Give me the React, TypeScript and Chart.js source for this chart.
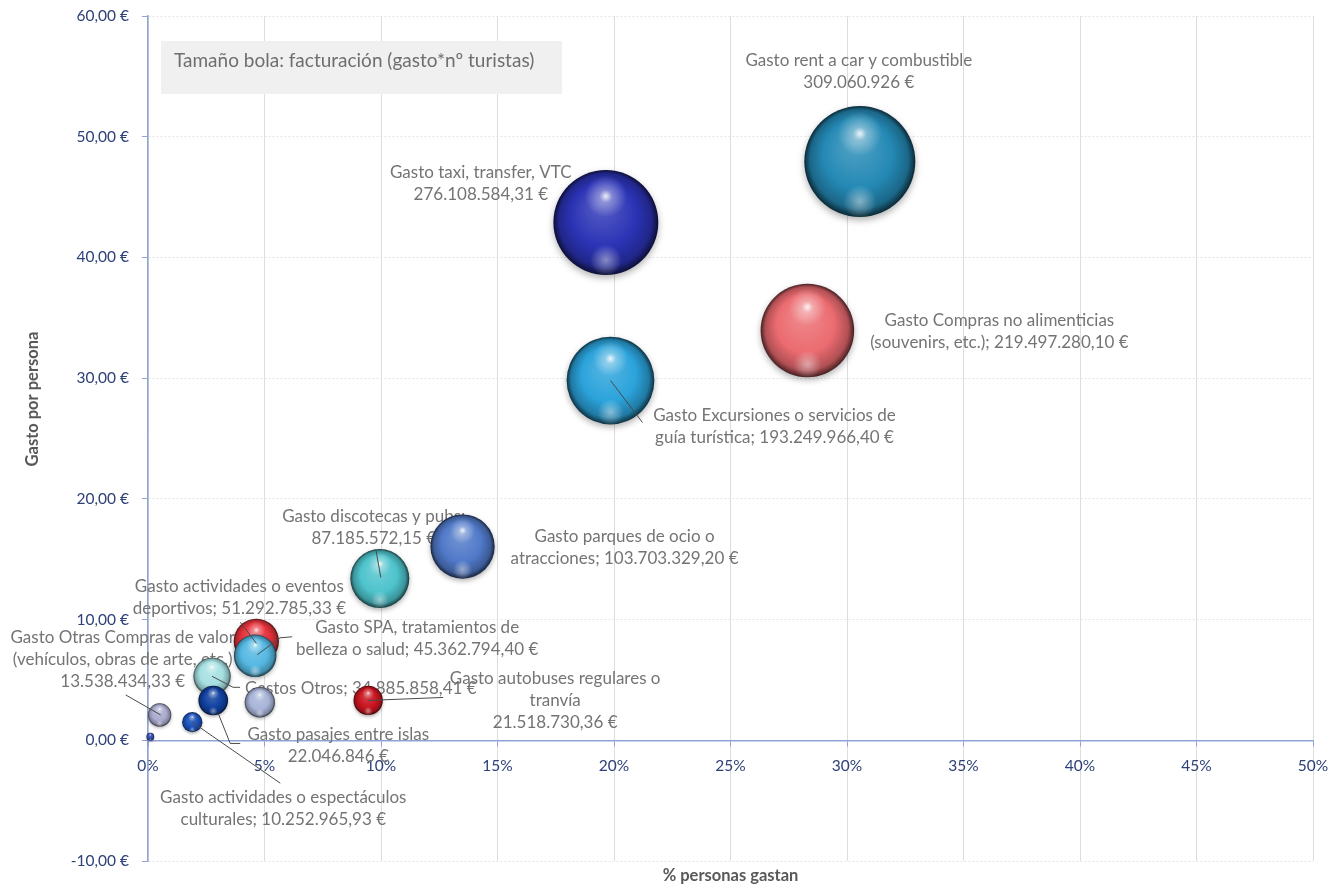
import React, { useEffect, useRef } from 'react';
import { Chart, registerables } from 'chart.js';

Chart.register(...registerables);

// ---------- DATA ----------
const categories = [
  'Gasto rent a car y combustible',
  'Gasto taxi, transfer, VTC',
  'Gasto Compras no alimenticias (souvenirs, etc.)',
  'Gasto Excursiones o servicios de guía turística',
  'Gasto parques de ocio o atracciones',
  'Gasto discotecas y pubs',
  'Gasto actividades o eventos deportivos',
  'Gasto SPA, tratamientos de belleza o salud',
  'Gastos Otros',
  'Gasto pasajes entre islas',
  'Gasto (sin etiqueta)',
  'Gasto autobuses regulares o tranvía',
  'Gasto Otras Compras de valor (vehículos, obras de arte, etc.)',
  'Gasto actividades o espectáculos culturales',
  'Gasto (sin etiqueta 2)',
];
const pctPersonas = [30.55, 19.65, 28.3, 19.85, 13.5, 9.95, 4.65, 4.6, 2.75, 2.8, 4.8, 9.45, 0.5, 1.9, 0.1];
const gastoPersona = [47.95, 42.9, 33.95, 29.8, 16.05, 13.4, 8.2, 7.0, 5.3, 3.3, 3.15, 3.3, 2.1, 1.5, 0.3];
const facturacion = [
  309060926, 276108584.31, 219497280.1, 193249966.4, 103703329.2, 87185572.15,
  51292785.33, 45362794.4, 34885858.41, 22046846, 23000000, 21518730.36,
  13538434.33, 10252965.93, 1500000,
];
const labelLines: string[][] = [
  ['Gasto rent a car y combustible', '309.060.926 €'],
  ['Gasto taxi, transfer, VTC', '276.108.584,31 €'],
  ['Gasto Compras no alimenticias', '(souvenirs, etc.); 219.497.280,10 €'],
  ['Gasto Excursiones o servicios de', 'guía turística; 193.249.966,40 €'],
  ['Gasto parques de ocio o', 'atracciones; 103.703.329,20 €'],
  ['Gasto discotecas y pubs;', '87.185.572,15 €'],
  ['Gasto actividades o eventos', 'deportivos; 51.292.785,33 €'],
  ['Gasto SPA, tratamientos de', 'belleza o salud; 45.362.794,40 €'],
  ['Gastos Otros; 34.885.858,41 €'],
  ['Gasto pasajes entre islas', '22.046.846 €'],
  [],
  ['Gasto autobuses regulares o', 'tranvía', '21.518.730,36 €'],
  ['Gasto Otras Compras de valor', '(vehículos, obras de arte, etc.)', '13.538.434,33 €'],
  ['Gasto actividades o espectáculos', 'culturales; 10.252.965,93 €'],
  [],
];
const xTickMin = 0;
const xTickMax = 50;
const xTickStep = 5;
const yTickMin = -10;
const yTickMax = 60;
const yTickStep = 10;
const noteText = 'Tamaño bola: facturación (gasto*nº turistas)';
const xTitle = '% personas gastan';
const yTitle = 'Gasto por persona';

// ---------- STYLE ----------
const bubbleColors = [
  '#2489B5', '#2B33B5', '#EB6B70', '#2BA3DB', '#5079C8', '#4EC3CC', '#E8323C',
  '#55B8E2', '#A6E0E2', '#1040A0', '#A8B4D8', '#C8141E', '#A9ABCE', '#1A4FB8', '#3048A8',
];
const maxRadius = 55.5;
type LabelLayout = { dx: number; dy: number; align?: 'center' | 'left'; leader?: number[][] } | null;
const labelLayout: LabelLayout[] = [
  { dx: -1, dy: -101 },
  { dx: -125, dy: -50 },
  { dx: 192, dy: -10 },
  { dx: 164, dy: 35, leader: [[0, 0], [32, 42]] },
  { dx: 162, dy: -10 },
  { dx: -6, dy: -62, leader: [[-4, -29], [1, -1]] },
  { dx: -17, dy: -55, leader: [[-16, -19], [0, 2]] },
  { dx: 162, dy: -28, leader: [[37, -19], [25, -18], [2, -1]] },
  { dx: 33, dy: 12, align: 'left', leader: [[0, 0], [21, 11], [28, 11]] },
  { dx: 125, dy: 34, leader: [[5, 13], [17, 43], [27, 43]] },
  null,
  { dx: 187, dy: -22, leader: [[0, 0], [75, -3]] },
  { dx: -37, dy: -77, leader: [[-34, -20], [1, 0]] },
  { dx: 91, dy: 75, leader: [[0, 0], [88, 61]] },
  null,
];
const FONT = 'Lato, "Open Sans", sans-serif';
const labelColor = '#747474';
const tickColor = '#2E4178';
const axisColor = '#8EA4D6';

function shade(hex: string, f: number): string {
  const n = parseInt(hex.slice(1), 16);
  let r = (n >> 16) & 255, g = (n >> 8) & 255, b = n & 255;
  if (f >= 0) {
    r += (255 - r) * f; g += (255 - g) * f; b += (255 - b) * f;
  } else {
    r *= 1 + f; g *= 1 + f; b *= 1 + f;
  }
  return `rgb(${Math.round(r)},${Math.round(g)},${Math.round(b)})`;
}

function drawSphere(ctx: CanvasRenderingContext2D, x: number, y: number, r: number, color: string) {
  ctx.save();
  ctx.shadowColor = 'rgba(0,0,0,0.3)';
  ctx.shadowBlur = r * 0.1 + 2;
  ctx.shadowOffsetY = r * 0.04 + 1;
  const g = ctx.createRadialGradient(x - r * 0.1, y - r * 0.35, r * 0.05, x, y, r);
  g.addColorStop(0, shade(color, 0.2));
  g.addColorStop(0.6, color);
  g.addColorStop(0.88, shade(color, -0.25));
  g.addColorStop(1, shade(color, -0.7));
  ctx.fillStyle = g;
  ctx.beginPath();
  ctx.arc(x, y, r, 0, Math.PI * 2);
  ctx.fill();
  ctx.shadowColor = 'rgba(0,0,0,0)';
  ctx.shadowBlur = 0;
  ctx.shadowOffsetY = 0;
  const hx = x, hy = y - r * 0.5;
  const h = ctx.createRadialGradient(hx, hy, 0, hx, hy, r * 0.4);
  h.addColorStop(0, 'rgba(255,255,255,0.9)');
  h.addColorStop(0.3, 'rgba(255,255,255,0.35)');
  h.addColorStop(1, 'rgba(255,255,255,0)');
  ctx.fillStyle = h;
  ctx.beginPath();
  ctx.arc(x, y, r, 0, Math.PI * 2);
  ctx.fill();
  const by = y + r * 0.72;
  const b = ctx.createRadialGradient(x, by, 0, x, by, r * 0.3);
  b.addColorStop(0, 'rgba(255,255,255,0.45)');
  b.addColorStop(1, 'rgba(255,255,255,0)');
  ctx.fillStyle = b;
  ctx.beginPath();
  ctx.arc(x, y, r, 0, Math.PI * 2);
  ctx.fill();
  ctx.restore();
}

const decorPlugin = {
  id: 'decor',
  beforeDatasetsDraw(chart: any) {
    const ctx: CanvasRenderingContext2D = chart.ctx;
    ctx.save();
    ctx.fillStyle = '#F0F0F0';
    ctx.fillRect(161, 41, 401, 53);
    ctx.fillStyle = '#6E6E6E';
    ctx.font = `19px ${FONT}`;
    ctx.textBaseline = 'middle';
    ctx.textAlign = 'left';
    ctx.fillText(noteText, 174, 61);
    const meta = chart.getDatasetMeta(0);
    ctx.font = `17px ${FONT}`;
    ctx.fillStyle = labelColor;
    meta.data.forEach((el: any, i: number) => {
      const lay = labelLayout[i];
      const lines = labelLines[i];
      if (!lay || !lines.length) return;
      ctx.textAlign = lay.align === 'left' ? 'left' : 'center';
      lines.forEach((t, k) => {
        ctx.fillText(t, el.x + lay.dx, el.y + lay.dy + k * 22);
      });
    });
    ctx.restore();
  },
  afterDatasetsDraw(chart: any) {
    const ctx: CanvasRenderingContext2D = chart.ctx;
    const meta = chart.getDatasetMeta(0);
    meta.data.forEach((el: any, i: number) => {
      drawSphere(ctx, el.x, el.y, el.options.radius, bubbleColors[i]);
    });
    ctx.save();
    ctx.strokeStyle = '#4A4A4A';
    ctx.lineWidth = 1;
    meta.data.forEach((el: any, i: number) => {
      const lay = labelLayout[i];
      if (!lay || !lay.leader) return;
      ctx.beginPath();
      lay.leader.forEach((p, k) => {
        const px = el.x + p[0], py = el.y + p[1];
        if (k === 0) ctx.moveTo(px, py); else ctx.lineTo(px, py);
      });
      ctx.stroke();
    });
    ctx.restore();
  },
  afterDraw(chart: any) {
    const ctx: CanvasRenderingContext2D = chart.ctx;
    const area = chart.chartArea;
    ctx.save();
    ctx.fillStyle = '#595959';
    ctx.font = `bold 16.5px ${FONT}`;
    ctx.textAlign = 'center';
    ctx.textBaseline = 'middle';
    ctx.fillText(xTitle, (area.left + area.right) / 2, 876);
    ctx.translate(33, 399);
    ctx.rotate(-Math.PI / 2);
    ctx.fillText(yTitle, 0, 0);
    ctx.restore();
  },
};

export default function App() {
  const canvasRef = useRef<HTMLCanvasElement | null>(null);

  useEffect(() => {
    if (!canvasRef.current) return;
    const points = pctPersonas.map((x, i) => ({
      x,
      y: gastoPersona[i],
      r: maxRadius * Math.sqrt(facturacion[i] / facturacion[0]),
    }));
    const chart = new Chart(canvasRef.current, {
      type: 'bubble',
      data: {
        datasets: [
          {
            label: 'Facturación',
            data: points,
            backgroundColor: 'rgba(0,0,0,0)',
            borderWidth: 0,
            hoverRadius: 0,
          } as any,
        ],
      },
      options: {
        animation: false,
        responsive: false,
        devicePixelRatio: 1,
        events: [],
        layout: { autoPadding: false, padding: { top: 16, right: 31, left: 0, bottom: 26 } },
        plugins: {
          legend: { display: false },
          tooltip: { enabled: false },
        },
        scales: {
          x: {
            type: 'linear',
            position: { y: 0 } as any,
            min: xTickMin,
            max: xTickMax,
            ticks: {
              stepSize: xTickStep,
              callback: (v: any) => `${v}%`,
              color: tickColor,
              font: { family: FONT, size: 15.5 },
              padding: 11,
              maxRotation: 0,
            },
            grid: { color: '#DDDDDD', lineWidth: 1, tickColor: axisColor, tickLength: 5 },
            border: { color: axisColor, width: 1.5 },
            title: { display: false },
            afterFit: (s: any) => { s.paddingTop = 0; s.paddingBottom = 0; },
          },
          y: {
            type: 'linear',
            min: yTickMin,
            max: yTickMax,
            ticks: {
              stepSize: yTickStep,
              callback: (v: any) => `${Number(v).toFixed(2).replace('.', ',')} €`,
              color: tickColor,
              font: { family: FONT, size: 15.5 },
              padding: 13,
            },
            grid: { color: '#E4E4E4', lineWidth: 1, tickColor: axisColor, tickLength: 6 },
            border: { color: axisColor, width: 1.5, dash: [2, 2] },
            title: { display: false },
            afterFit: (s: any) => { s.width = 148; s.paddingTop = 0; s.paddingBottom = 0; },
          },
        },
      },
      plugins: [decorPlugin],
    });
    return () => chart.destroy();
  }, []);

  return (
    <div style={{ position: 'absolute', left: 0, top: 0, width: 1344, height: 887, background: '#fff' }}>
      <canvas ref={canvasRef} width={1344} height={887} style={{ display: 'block' }} />
    </div>
  );
}
